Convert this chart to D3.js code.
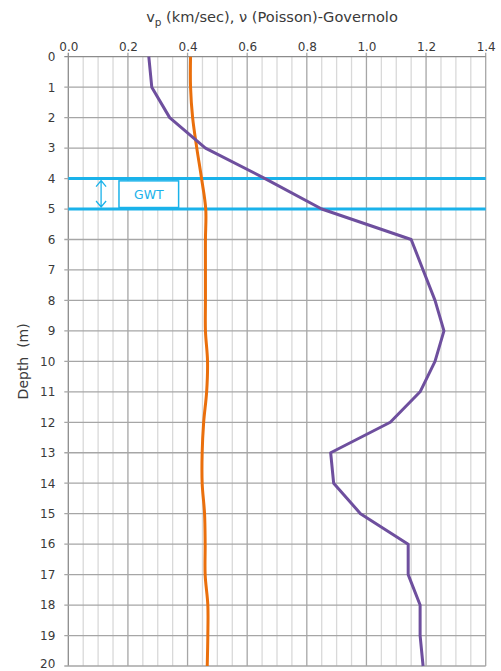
<!DOCTYPE html>
<html>
<head>
<meta charset="utf-8">
<script src="https://cdn.jsdelivr.net/npm/d3@7"></script>
<style>
  body { margin: 0; background: #fff; }
  text { font-family: "DejaVu Sans", sans-serif; }
</style>
</head>
<body>
<div id="chart"></div>
<script>
// depth in metres, one reading per metre
const depths = d3.range(0, 21);
// vp (km/sec)
const vp = [0.27, 0.28, 0.34, 0.46, 0.66, 0.85, 1.15, 1.19, 1.23, 1.26, 1.23,
  1.18, 1.08, 0.88, 0.89, 0.98, 1.14, 1.14, 1.18, 1.18, 1.19];
// Poisson ratio
const poisson = [0.41, 0.41, 0.417, 0.431, 0.447, 0.461, 0.46, 0.46, 0.46, 0.46, 0.467,
  0.464, 0.454, 0.449, 0.449, 0.457, 0.459, 0.459, 0.468, 0.468, 0.466];
// ground water table band
const gwtDepths = [4, 5];
const xTicks = [0, 0.2, 0.4, 0.6, 0.8, 1.0, 1.2, 1.4];

const width = 501, height = 671;
const margin = { top: 56.7, right: 15.3, bottom: 5, left: 68.3 };

const svg = d3.select('#chart').append('svg')
  .attr('width', width)
  .attr('height', height);

const x = d3.scaleLinear().domain([0, 1.4]).range([margin.left, width - margin.right]);
const y = d3.scaleLinear().domain([0, 20]).range([margin.top, height - margin.bottom]);

//minor vertical grid
svg.append('g').selectAll('line')
  .data(d3.range(0, 1.4001, 0.05).filter(v => Math.abs(v / 0.2 - Math.round(v / 0.2)) > 0.01))
  .join('line')
  .attr('x1', d => x(d)).attr('x2', d => x(d))
  .attr('y1', y(0)).attr('y2', y(20))
  .attr('stroke', '#d9d9d9').attr('stroke-width', 1.3);

//major vertical grid
svg.append('g').selectAll('line')
  .data(xTicks)
  .join('line')
  .attr('x1', d => x(d)).attr('x2', d => x(d))
  .attr('y1', y(0) - 4).attr('y2', y(20))
  .attr('stroke', d => d === 0 ? '#8c8c8c' : '#a6a6a6').attr('stroke-width', 1.3);

//horizontal grid
svg.append('g').selectAll('line')
  .data(depths)
  .join('line')
  .attr('x1', x(0) - 4).attr('x2', x(1.4))
  .attr('y1', d => y(d)).attr('y2', d => y(d))
  .attr('stroke', d => d === 0 ? '#8c8c8c' : '#a6a6a6').attr('stroke-width', 1.3);

//axes
const topAxis = svg.append('g')
  .attr('transform', `translate(0,${margin.top - 6})`)
  .call(d3.axisTop(x).tickValues(xTicks).tickFormat(d3.format('.1f')).tickSize(0).tickPadding(0));
const leftAxis = svg.append('g')
  .attr('transform', `translate(${margin.left - 13},0)`)
  .call(d3.axisLeft(y).tickValues(depths).tickSize(0).tickPadding(0));
[topAxis, leftAxis].forEach(a => {
  a.select('.domain').remove();
  a.selectAll('text')
    .attr('fill', '#3a3a3a')
    .style('font-size', '12px')
    .style('font-family', '"DejaVu Sans", sans-serif');
});
//keep the last depth label inside the picture
leftAxis.selectAll('.tick text').filter(d => d === 20).attr('dy', '0.1em');

//GWT lines
const blue = '#1ab2ea';
svg.append('g').selectAll('line')
  .data(gwtDepths)
  .join('line')
  .attr('x1', x(0)).attr('x2', x(1.4))
  .attr('y1', d => y(d)).attr('y2', d => y(d))
  .attr('stroke', blue).attr('stroke-width', 3);

//double arrow
const ax = x(0.11);
const ay1 = y(gwtDepths[0]) + 2, ay2 = y(gwtDepths[1]) - 2;
svg.append('path')
  .attr('d', `M${ax},${ay1}V${ay2}M${ax - 5},${ay1 + 6}L${ax},${ay1}L${ax + 5},${ay1 + 6}` +
    `M${ax - 5},${ay2 - 6}L${ax},${ay2}L${ax + 5},${ay2 - 6}`)
  .attr('fill', 'none').attr('stroke', blue).attr('stroke-width', 1.3);

//GWT label box
const bx0 = x(0.17), bx1 = x(0.37);
const by0 = y(gwtDepths[0]) + 2.3, by1 = y(gwtDepths[1]) - 1.5;
svg.append('rect')
  .attr('x', bx0).attr('y', by0)
  .attr('width', bx1 - bx0).attr('height', by1 - by0)
  .attr('fill', '#fff').attr('stroke', blue).attr('stroke-width', 1.5);
svg.append('text')
  .attr('x', (bx0 + bx1) / 2).attr('y', (by0 + by1) / 2 + 4.5)
  .attr('text-anchor', 'middle')
  .attr('fill', blue)
  .style('font-size', '12.5px')
  .text('GWT');

//data lines
const vpLine = d3.line().x(d => x(d[0])).y(d => y(d[1]));
const poLine = d3.line().x(d => x(d[0])).y(d => y(d[1])).curve(d3.curveCatmullRom);

svg.append('path')
  .datum(d3.zip(poisson, depths))
  .attr('d', poLine)
  .attr('fill', 'none').attr('stroke', '#ea6f0c').attr('stroke-width', 3);

svg.append('path')
  .datum(d3.zip(vp, depths))
  .attr('d', vpLine)
  .attr('fill', 'none').attr('stroke', '#6e4f9e').attr('stroke-width', 3)
  .attr('stroke-linejoin', 'round');

//title
const title = svg.append('text')
  .attr('x', (margin.left + width - margin.right) / 2 - 5)
  .attr('y', 22)
  .attr('text-anchor', 'middle')
  .attr('fill', '#3a3a3a')
  .style('font-size', '14.6px');
title.append('tspan').text('v');
title.append('tspan').attr('dy', 4).style('font-size', '10.5px').text('p');
title.append('tspan').attr('dy', -4).text(' (km/sec), ν (Poisson)-Governolo');

//depth label
svg.append('text')
  .attr('transform', `translate(28,${(y(0) + y(20)) / 2}) rotate(-90)`)
  .attr('text-anchor', 'middle')
  .attr('fill', '#3a3a3a')
  .style('font-size', '14px')
  .style('white-space', 'pre')
  .text('Depth  (m)');
</script>
</body>
</html>
